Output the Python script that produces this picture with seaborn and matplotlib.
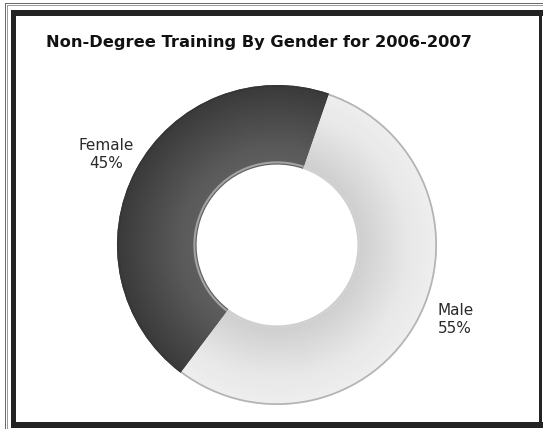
import numpy as np
import matplotlib
matplotlib.use("Agg")
import matplotlib.pyplot as plt
from matplotlib.patches import Rectangle
from matplotlib.colors import to_rgb
import seaborn as sns

# Chart data
genders = ["Female", "Male"]
shares = [45, 55]
title = "Non-Degree Training By Gender for 2006-2007"

sns.set_theme(style="white")
plt.rcParams["font.family"] = ["DejaVu Sans"]

W, H = 543, 429
DPI = 100
fig = plt.figure(figsize=(W / DPI, H / DPI), dpi=DPI)
fig.patch.set_facecolor("white")

# Pie geometry in pixels: centre and outer radius
cx, cy, R = 277, 245, 160
inner = 0.51
ax = fig.add_axes([0, 0, 1, 1])
ax.set_facecolor("white")


def mix(c1, c2, t):
    a, b = np.array(to_rgb(c1)), np.array(to_rgb(c2))
    return tuple(a + (b - a) * t)


# Radial shading for each slice (outer colour -> inner colour)
female_stops = [(0.0, "#3a3a3a"), (0.25, "#444444"), (0.8, "#595959"), (1.0, "#5e5e5e")]
male_stops = [(0.0, "#eeeeee"), (0.35, "#e8e8e8"), (0.75, "#d9d9d9"), (1.0, "#cfcfcf")]


def ramp(stops, t):
    for (t0, c0), (t1, c1) in zip(stops[:-1], stops[1:]):
        if t <= t1:
            return mix(c0, c1, (t - t0) / (t1 - t0))
    return to_rgb(stops[-1][1])


start = 71
bands = 40
step = (1 - inner) / bands
for i in range(bands):
    t = i / (bands - 1)
    r = 1 - i * step
    ax.pie(shares, radius=r, startangle=start, counterclock=True,
           colors=[ramp(female_stops, t), ramp(male_stops, t)],
           wedgeprops=dict(width=step * 1.6, linewidth=0))

# Outer rim and inner rim
ax.pie(shares, radius=1.0, startangle=start,
       colors=["#363636", "#b4b4b4"], wedgeprops=dict(width=0.011, linewidth=0))
ax.pie(shares, radius=inner + 0.013, startangle=start,
       colors=["#a4a4a4", "#d2d2d2"], wedgeprops=dict(width=0.013, linewidth=0))

# Labels placed at each slice's mid-angle
total = sum(shares)
theta = start
for name, v in zip(genders, shares):
    span = 360 * v / total
    mid = np.deg2rad(theta + span / 2)
    theta += span
    d = 1.21
    x, y = d * np.cos(mid), d * np.sin(mid)
    if y < 0:
        # labels in the lower half sit a little higher and further out
        y += 0.1
        x += 0.045
    ax.text(x, y, f"{name}\n{v}%",
            ha="center", va="center", fontsize=11, color="#2a2a2a",
            linespacing=1.25)

ax.set_xlim(-cx / R, (W - cx) / R)
ax.set_ylim(-(H - cy) / R, cy / R)
ax.set_aspect("auto")
ax.axis("off")

fig.text(259 / W, 1 - 43 / H, title, ha="center", va="center",
         fontsize=11.7, fontweight="bold", color="#111111")


# Frame
def px_rect(x0, y0, x1, y1, color):
    fig.patches.append(Rectangle((x0 / W, 1 - y1 / H), (x1 - x0) / W, (y1 - y0) / H,
                                 transform=fig.transFigure, facecolor=color,
                                 edgecolor="none", zorder=10))


dark = "#232323"
px_rect(11, 10, 543, 15.5, dark)     # top
px_rect(11, 10, 16, 428, dark)       # left
px_rect(539, 10, 542, 428, dark)     # right
px_rect(11, 422, 543, 428, dark)     # bottom
px_rect(4.5, 3, 5.8, 429, "#6a6a6a")   # outer thin left
px_rect(6.8, 5, 7.8, 429, "#9a9a9a")
px_rect(4.5, 3, 543, 4.3, "#6a6a6a")   # outer thin top
px_rect(6.8, 5, 543, 6.0, "#9a9a9a")

fig.savefig("out.png", dpi=DPI, facecolor="white")
